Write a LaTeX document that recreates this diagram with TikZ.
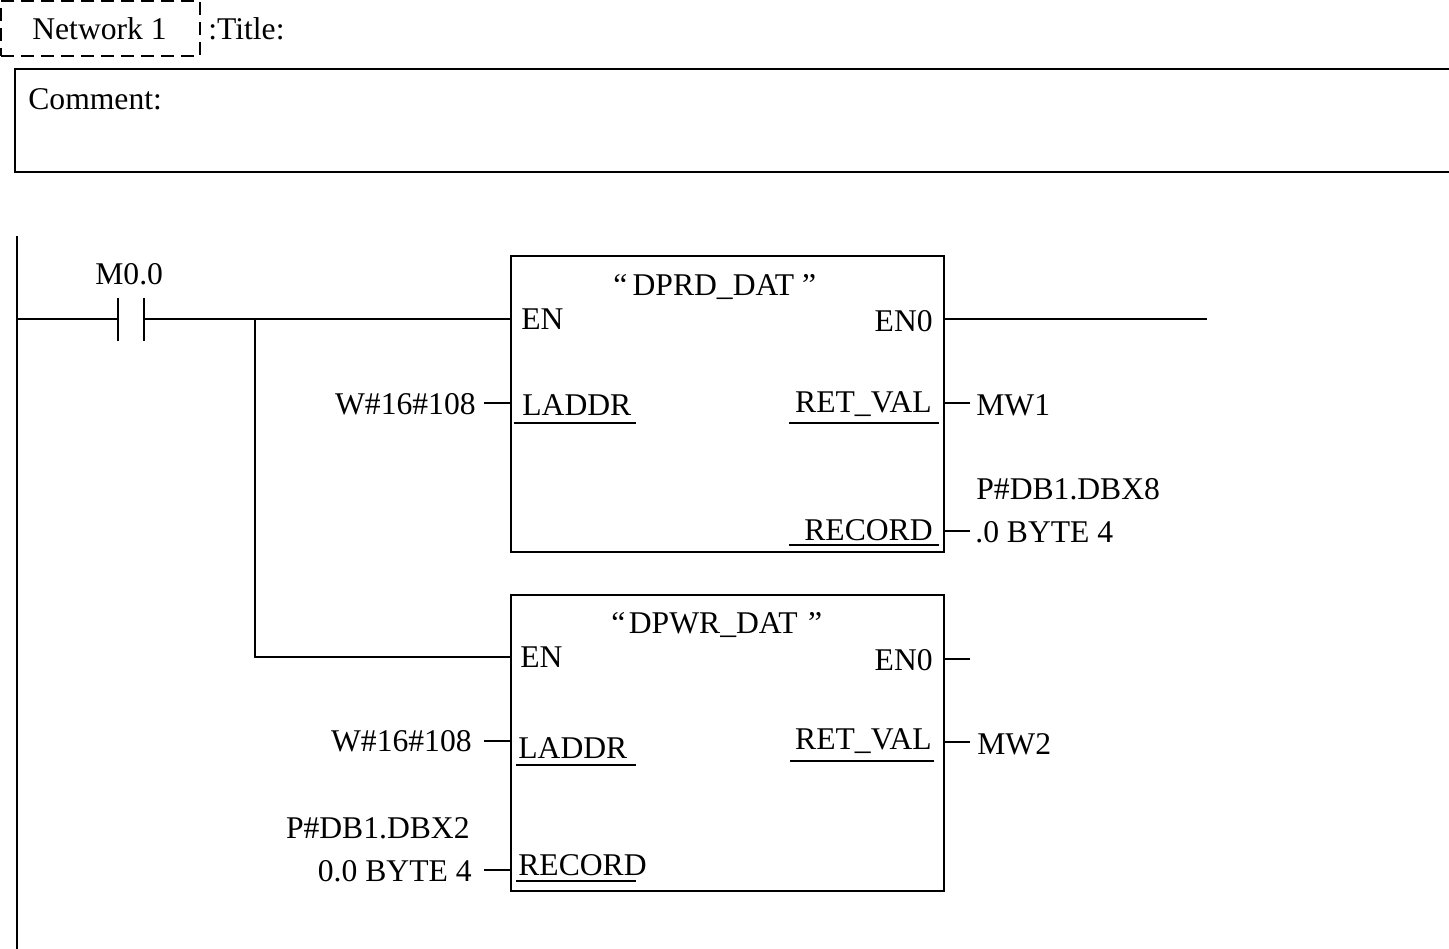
\documentclass[tikz,border=0pt]{standalone}
\usepackage{fontspec}
\setmainfont{Liberation Serif}
\usetikzlibrary{positioning,calc}
\begin{document}
\begin{tikzpicture}
[x=.02cm,y=-.02cm,
txt/.style={inner sep=0pt,anchor=base west,font=\fontsize{18}{20}\selectfont},
rtxt/.style={inner sep=0pt,anchor=base east,font=\fontsize{18}{20}\selectfont},
fblock/.style={shape=rectangle,draw=black,line width=.4mm,anchor=north west,inner sep=0pt,outer sep=0pt,minimum width=8.66cm,minimum height=5.92cm},
netbox/.style={shape=rectangle,draw=black,line width=.4mm,dash pattern=on 2.6mm off 1.4mm,anchor=north west,inner sep=0pt,outer sep=0pt,minimum width=3.98cm,minimum height=1.1cm},
wire/.style={line width=.4mm}]
\useasboundingbox (0,0) rectangle (1449,949);
%%
% header
%%
\node[netbox] (net) at (1,1) {};
\node[txt] (netl) at (32,40) {Network 1};
\node[txt] (title) at (208,40) {:Title:};
\coordinate (c1) at (1449,69);
\coordinate (c2) at (15,69);
\coordinate (c3) at (15,172);
\coordinate (c4) at (1449,172);
\draw[wire] (c1) -- (c2) -- (c3) -- (c4);
\node[txt] (comment) at (28,110) {Comment:};
%%
% power rail and contact
%%
\coordinate (rt) at (17,236);
\coordinate (rb) at (17,949);
\draw[wire] (rt) -- (rb);
\node[txt] (m00) at (95,285) {M0.0};
\coordinate (ka1) at (118,298);
\coordinate (ka2) at (118,341);
\coordinate (kb1) at (144,298);
\coordinate (kb2) at (144,341);
\draw[wire] (ka1) -- (ka2);
\draw[wire] (kb1) -- (kb2);
%%
% blocks
%%
\node[fblock] (rd) at (511,256) {};
\node[fblock] (wr) at (511,595) {};
\node[txt] (rdname) at (613,296) {“\kern3pt DPRD\_DAT\kern4.5pt”};
\node[txt] (wrname) at (611,633) {“\kern2pt DPWR\_DAT\kern6pt”};
%%
% rung
%%
\coordinate (s0) at (17,319);
\coordinate (s1) at (118,319);
\coordinate (s2) at (144,319);
\coordinate (jn) at (255,319);
\coordinate (jw) at (255,657);
\coordinate (rdqe) at (1207,319);
\draw[wire] (s0) -- (s1);
\draw[wire] (s2) -- (s2-|rd.west);
\draw[wire] (jn) -- (jw) -- (jw-|wr.west);
\draw[wire] (rd.east|-rdqe) -- (rdqe);
%%
% DPRD_DAT pins
%%
\node[txt] (rdenl) at (521,329) {EN};
\node[rtxt] (rdeno) at (933,332) {EN0};
\node[txt] (rdla) at (522,415) {LADDR};
\node[rtxt] (rdrv) at (932,412) {RET\_VAL};
\node[rtxt] (rdrec) at (933,540) {RECORD};
\node[rtxt] (rdlav) at (476,414) {W\#16\#108};
\node[txt] (mw1) at (976,415) {MW1};
\node[txt] (rdp1) at (976,499) {P\#DB1.DBX8};
\node[txt] (rdp2) at (975,542) {.0 BYTE 4};
\coordinate (rdlaw) at (484,403);
\coordinate (rdrvw) at (970,403);
\coordinate (rdrecw) at (970,531);
\coordinate (rdlau0) at (514,423);
\coordinate (rdlau1) at (636,423);
\coordinate (rdrvu0) at (789,423);
\coordinate (rdrvu1) at (939,423);
\coordinate (rdrecu0) at (789,545);
\coordinate (rdrecu1) at (939,545);
\draw[wire] (rdlaw) -- (rdlaw-|rd.west);
\draw[wire] (rd.east|-rdrvw) -- (rdrvw);
\draw[wire] (rd.east|-rdrecw) -- (rdrecw);
\draw[wire] (rdlau0) -- (rdlau1);
\draw[wire] (rdrvu0) -- (rdrvu1);
\draw[wire] (rdrecu0) -- (rdrecu1);
%%
% DPWR_DAT pins
%%
\node[txt] (wrenl) at (520,667) {EN};
\node[rtxt] (wreno) at (933,670) {EN0};
\node[txt] (wrla) at (518,758) {LADDR};
\node[rtxt] (wrrv) at (932,749) {RET\_VAL};
\node[txt] (wrrec) at (518,875) {RECORD};
\node[rtxt] (wrlav) at (472,751) {W\#16\#108};
\node[txt] (mw2) at (977,754) {MW2};
\node[rtxt] (wrp1) at (470,838) {P\#DB1.DBX2};
\node[rtxt] (wrp2) at (472,881) {0.0 BYTE 4};
\coordinate (wrenw) at (970,659);
\coordinate (wrrvw) at (970,742);
\coordinate (wrlaw) at (484,741);
\coordinate (wrrecw) at (484,870);
\coordinate (wrlau0) at (516,765);
\coordinate (wrlau1) at (636,765);
\coordinate (wrrvu0) at (790,761);
\coordinate (wrrvu1) at (934,761);
\coordinate (wrrecu0) at (516,881);
\coordinate (wrrecu1) at (636,881);
\draw[wire] (wr.east|-wrenw) -- (wrenw);
\draw[wire] (wr.east|-wrrvw) -- (wrrvw);
\draw[wire] (wrlaw) -- (wrlaw-|wr.west);
\draw[wire] (wrrecw) -- (wrrecw-|wr.west);
\draw[wire] (wrlau0) -- (wrlau1);
\draw[wire] (wrrvu0) -- (wrrvu1);
\draw[wire] (wrrecu0) -- (wrrecu1);
\end{tikzpicture}
\end{document}
